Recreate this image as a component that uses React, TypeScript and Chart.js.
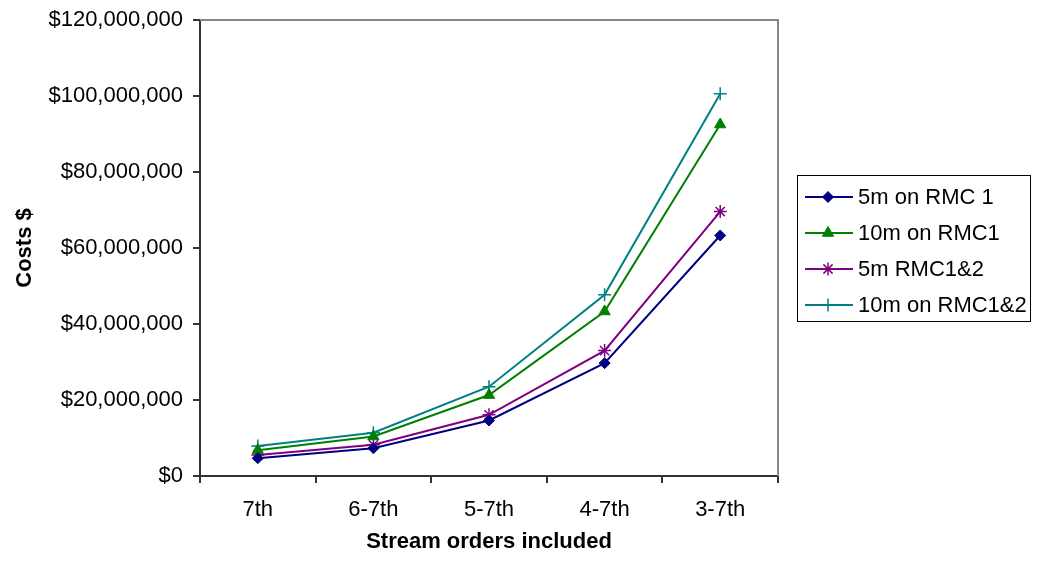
import React, { useEffect, useRef } from "react";
import { Chart, registerables } from "chart.js";
import { drawPoint } from "chart.js/helpers";

Chart.register(...registerables);

const categories = ["7th", "6-7th", "5-7th", "4-7th", "3-7th"];
const seriesNames = ["5m on RMC 1", "10m on RMC1", "5m RMC1&2", "10m on RMC1&2"];
const fiveRmc1 = [4700000, 7300000, 14600000, 29700000, 63300000];
const tenRmc1 = [6800000, 10400000, 21300000, 43300000, 92500000];
const fiveRmc12 = [5500000, 8200000, 16100000, 33000000, 69600000];
const tenRmc12 = [7900000, 11400000, 23500000, 47700000, 100600000];
const yTicksMax = 120000000;
const yTickStep = 20000000;

const FONT = "Arial, 'Liberation Sans', sans-serif";
const W = 1023;
const H = 553;

export default function App() {
  const ref = useRef<HTMLCanvasElement | null>(null);

  useEffect(() => {
    if (!ref.current) return;
    document.body.style.overflow = "hidden";

    const frame = {
      id: "frame",
      afterDraw(chart: any) {
        const { ctx, chartArea } = chart;
        ctx.save();
        ctx.strokeStyle = "#888888";
        ctx.lineWidth = 2;
        ctx.beginPath();
        ctx.moveTo(chartArea.left, chartArea.top);
        ctx.lineTo(chartArea.right, chartArea.top);
        ctx.lineTo(chartArea.right, chartArea.bottom);
        ctx.stroke();
        ctx.restore();
      },
    };

    const boxLegend = {
      id: "boxLegend",
      afterDraw(chart: any) {
        const { ctx } = chart;
        const left = 789;
        const top = 167;
        const right = 1022;
        const bottom = 313;
        ctx.save();
        ctx.strokeStyle = "#000";
        ctx.lineWidth = 1;
        ctx.strokeRect(left + 0.5, top + 0.5, right - left, bottom - top);
        chart.data.datasets.forEach((ds: any, i: number) => {
          const y = 189 + i * 36;
          ctx.strokeStyle = ds.borderColor;
          ctx.lineWidth = 2;
          ctx.beginPath();
          ctx.moveTo(797, y);
          ctx.lineTo(845, y);
          ctx.stroke();
          ctx.fillStyle = ds.pointBackgroundColor;
          ctx.strokeStyle = ds.pointBorderColor;
          ctx.lineWidth = ds.pointBorderWidth;
          drawPoint(ctx, { pointStyle: ds.pointStyle, radius: ds.pointRadius, rotation: 0, borderWidth: ds.pointBorderWidth }, 820, y);
          ctx.fillStyle = "#000";
          ctx.font = `22px ${FONT}`;
          ctx.textBaseline = "middle";
          ctx.textAlign = "left";
          ctx.fillText(ds.label, 850, y + 1);
        });
        ctx.restore();
      },
    };

    const mk = (label: string, data: number[], color: string, style: string, radius: number, bw: number) => ({
      label,
      data,
      borderColor: color,
      backgroundColor: color,
      pointBackgroundColor: color,
      pointBorderColor: color,
      pointStyle: style,
      pointRadius: radius,
      pointBorderWidth: bw,
      borderWidth: 2,
      tension: 0,
      fill: false,
    });

    const chart = new Chart(ref.current, {
      type: "line",
      data: {
        labels: categories,
        datasets: [
          mk(seriesNames[0], fiveRmc1, "#000080", "rectRot", 5.5, 1),
          mk(seriesNames[1], tenRmc1, "#008000", "triangle", 6.5, 1),
          mk(seriesNames[2], fiveRmc12, "#800080", "star", 6.5, 1.5),
          mk(seriesNames[3], tenRmc12, "#008080", "cross", 6.5, 1.5),
        ],
      },
      options: {
        animation: false,
        responsive: false,
        maintainAspectRatio: false,
        layout: { padding: { top: 12, right: 253, left: 0, bottom: 0 } },
        plugins: {
          legend: { display: false },
          tooltip: { enabled: false },
          title: { display: false },
        },
        scales: {
          x: {
            type: "category",
            offset: true,
            afterFit(scale: any) {
              scale.height = H - 468;
              scale.paddingLeft = 0;
              scale.paddingRight = 0;
            },
            grid: {
              display: true,
              offset: true,
              drawOnChartArea: false,
              drawTicks: true,
              tickLength: 7,
              color: "#333333",
              lineWidth: 2,
            },
            border: { display: true, color: "#333333", width: 2 },
            ticks: {
              color: "#000",
              font: { family: FONT, size: 22 },
              padding: 14,
              maxRotation: 0,
            },
            title: {
              display: true,
              text: "Stream orders included",
              color: "#000",
              font: { family: FONT, size: 22, weight: "bold" },
              padding: { top: 0, bottom: 6 },
            },
          },
          y: {
            min: 0,
            max: yTicksMax,
            afterFit(scale: any) {
              scale.width = 192;
              scale.paddingTop = 0;
              scale.paddingBottom = 0;
            },
            grid: {
              display: true,
              drawOnChartArea: false,
              drawTicks: true,
              tickLength: 7,
              color: "#333333",
              lineWidth: 2,
            },
            border: { display: true, color: "#333333", width: 2 },
            ticks: {
              stepSize: yTickStep,
              color: "#000",
              font: { family: FONT, size: 22 },
              padding: 10,
              callback: (v: any) => "$" + Number(v).toLocaleString("en-US"),
            },
            title: {
              display: true,
              text: "Costs $",
              color: "#000",
              font: { family: FONT, size: 22, weight: "bold" },
              padding: { top: 4, bottom: 0 },
            },
          },
        },
      },
      plugins: [frame, boxLegend],
    } as any);

    return () => chart.destroy();
  }, []);

  return (
    <div style={{ width: W, height: H, marginBottom: -8 }}>
      <canvas ref={ref} width={W} height={H} style={{ width: W, height: H, display: "block" }} />
    </div>
  );
}
